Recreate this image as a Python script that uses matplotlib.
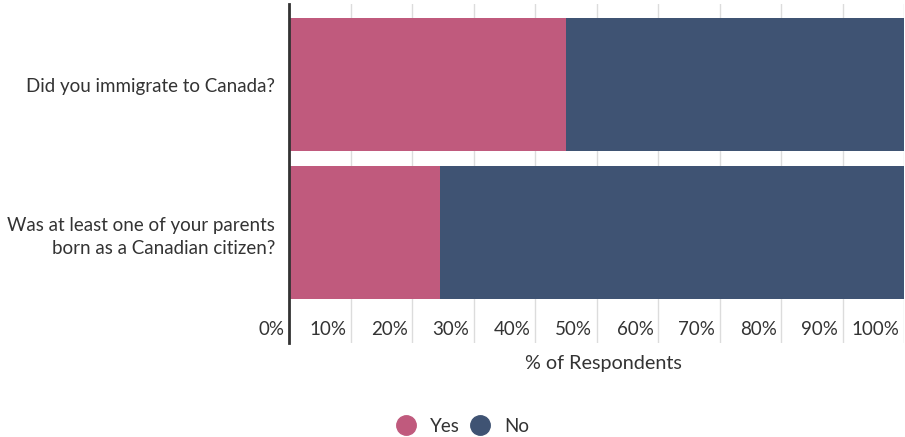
import matplotlib
matplotlib.use("Agg")
import matplotlib.pyplot as plt
from matplotlib.lines import Line2D

questions = ["Did you immigrate to Canada?",
             "Was at least one of your parents\nborn as a Canadian citizen?"]
yes = [45.0, 24.5]
no = [55.0, 75.5]
ticks = [0, 10, 20, 30, 40, 50, 60, 70, 80, 90, 100]
tick_labels = ["%d%%" % t for t in ticks]

pink = "#c05a7d"
navy = "#3f5373"
text_col = "#333333"

plt.rcParams['font.family'] = ['Lato', 'DejaVu Sans']

fig = plt.figure(figsize=(9.05, 4.37), dpi=100)
ax = fig.add_axes([289 / 905, 94 / 437, 615 / 905, 339 / 437])

ypos = list(range(len(questions)))
ax.barh(ypos, yes, height=0.9, color=pink, zorder=2)
ax.barh(ypos, no, left=yes, height=0.9, color=navy, zorder=2)

ax.set_xlim(0, 100)
ax.set_ylim(1.746, -0.544)

# vertical grid lines
for t in ticks[1:]:
    ax.axvline(t, color="#dcdcdc", lw=1, zorder=1)

# tick labels sit inside the axes, to the left of each grid line
for t, lab in zip(ticks, tick_labels):
    ax.text(t - 0.7, 1.653, lab, ha="right", va="center", fontsize=13.5,
            color=text_col)

ax.set_xticks([])
ax.set_yticks(ypos)
ax.set_yticklabels(questions, fontsize=13.5, color=text_col, ha="right",
                   multialignment="right", linespacing=1.45)
ax.tick_params(axis="y", length=0, pad=10)

for s in ["top", "right", "bottom"]:
    ax.spines[s].set_visible(False)
ax.spines["left"].set_color("#333333")
ax.spines["left"].set_linewidth(2)
ax.spines["left"].set_zorder(3)

fig.text(603 / 905, 1 - 364 / 437, "% of Respondents", ha="center",
         va="center", fontsize=14.2, color=text_col)

handles = [Line2D([], [], marker="o", ls="", markersize=14, color=pink),
           Line2D([], [], marker="o", ls="", markersize=14, color=navy)]
fig.legend(handles, ["Yes", "No"], loc="center", ncol=2, frameon=False,
           bbox_to_anchor=(458 / 905, 1 - 426 / 437), fontsize=13.5,
           handletextpad=0.3, columnspacing=0.05, labelcolor=text_col)

fig.savefig("out.png", dpi=100)
